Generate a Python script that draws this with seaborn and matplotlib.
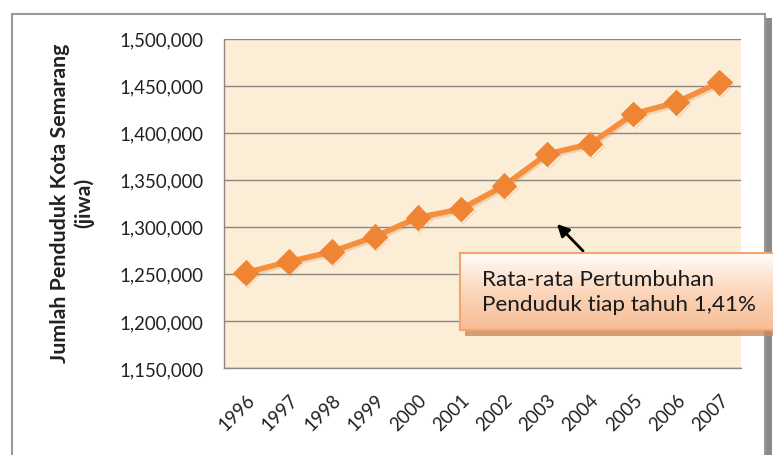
import numpy as np
import pandas as pd
import matplotlib
matplotlib.use('Agg')
import matplotlib.pyplot as plt
import matplotlib.patheffects as pe
from matplotlib.patches import Rectangle
from matplotlib.ticker import FuncFormatter, MultipleLocator
import seaborn as sns

years = [1996, 1997, 1998, 1999, 2000, 2001, 2002, 2003, 2004, 2005, 2006, 2007]
population = [1251200, 1262900, 1273500, 1289500, 1309800, 1318900, 1343600,
              1377300, 1387900, 1419800, 1432200, 1453500]
ylabel = 'Jumlah Penduduk Kota Semarang\n(jiwa)'
note = 'Rata-rata Pertumbuhan\nPenduduk tiap tahuh 1,41%'

df = pd.DataFrame({'tahun': years, 'jumlah': population})

sns.set_theme(style='white')
plt.rcParams['font.family'] = ['Lato', 'DejaVu Sans']

W, H = 773, 456
fig = plt.figure(figsize=(W / 100, H / 100), dpi=100)

def px(x0, y0, x1, y1):
    # pixel box (top-left origin) -> figure fraction rect
    return [x0 / W, 1 - y1 / H, (x1 - x0) / W, (y1 - y0) / H]

# outer chart frame with shadow on the right
fig.patches.append(Rectangle((765 / W, -0.1), 7 / W, 1 - 19 / H + 0.1,
                             transform=fig.transFigure, facecolor='#8a8a8a',
                             edgecolor='none', zorder=0.4))
fig.patches.append(Rectangle((11.5 / W, -0.1), 753.5 / W, 1 - 15 / H + 0.1,
                             transform=fig.transFigure, facecolor='white',
                             edgecolor='#9a9a9a', lw=1.5, zorder=0.5))

ax = fig.add_axes(px(224, 39.5, 741, 369))
ax.set_zorder(2)
ax.set_facecolor('#fbedd6')

sns.lineplot(data=df, x='tahun', y='jumlah', ax=ax, color='#f58f3e',
             lw=4, marker='D', markersize=12.5, markeredgecolor='#ee8434',
             markerfacecolor='#ee8434',
             path_effects=[pe.SimpleLineShadow(offset=(1, -1.5), shadow_color='#b0631f', alpha=0.18),
                           pe.Normal()])

ax.set_xlim(1995.5, 2007.5)
ax.set_ylim(1150000, 1500000)
ax.yaxis.set_major_locator(MultipleLocator(50000))
ax.yaxis.set_major_formatter(FuncFormatter(lambda v, p: f'{int(v):,}'))
ax.set_xticks(years)
ax.set_xticklabels([str(y) for y in years], rotation=45, ha='right',
                   rotation_mode='anchor', fontsize=13.4, color='#222222')
ax.tick_params(axis='y', labelsize=13.4, colors='#222222', length=0, pad=15)
ax.tick_params(axis='x', length=0, pad=16)
ax.grid(axis='y', color='#8c8780', lw=1)
ax.grid(axis='x', visible=False)
for s in ['top', 'right']:
    ax.spines[s].set_visible(False)
for s in ['left', 'bottom']:
    ax.spines[s].set_color('#8c8780')
    ax.spines[s].set_linewidth(1)
ax.set_xlabel('')
ax.set_ylabel('')
fig.text(72 / W, 1 - 203 / H, ylabel, rotation=90, ha='center', va='center',
         fontsize=15.4, fontweight='bold', color='#222222', linespacing=1.2)

# annotation box with gradient fill and shadow
fig.patches.append(Rectangle((465 / W, 1 - 337 / H), 310 / W, 76 / H,
                             transform=fig.transFigure, facecolor='#c98a5e',
                             edgecolor='none', alpha=0.8, zorder=5))
bx = fig.add_axes(px(460, 254, 775, 331), zorder=6)
grad = np.linspace(0, 1, 100).reshape(-1, 1)
cmap = matplotlib.colors.LinearSegmentedColormap.from_list('peach', ['#fffdfb', '#fbd6bb', '#f7bd96'])
bx.imshow(grad, aspect='auto', cmap=cmap, extent=[0, 1, 0, 1], origin='upper')
bx.set_xlim(0, 1)
bx.set_ylim(0, 1)
bx.set_xticks([])
bx.set_yticks([])
for s in bx.spines.values():
    s.set_color('#f5a46e')
    s.set_linewidth(1.5)
bx.text(22 / 315, 0.5, note, ha='left', va='center', fontsize=16.2,
        color='#1a1a1a', linespacing=1.35)

ax.annotate('', xy=(555 / W, 1 - 223 / H), xytext=(585 / W, 1 - 254 / H),
            xycoords='figure fraction', textcoords='figure fraction',
            arrowprops=dict(arrowstyle='-|>', color='black', lw=2, mutation_scale=18),
            zorder=7)

fig.savefig('out.png', dpi=100)
